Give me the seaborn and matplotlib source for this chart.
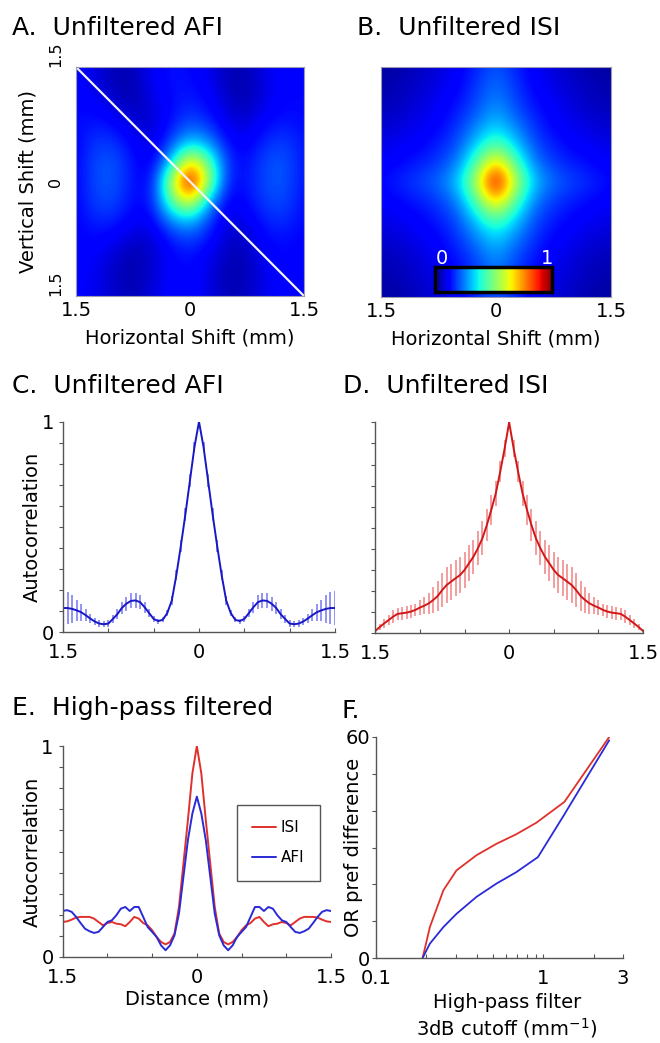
import numpy as np
import pandas as pd
import seaborn as sns
import matplotlib.pyplot as plt
from matplotlib.ticker import FixedLocator, NullFormatter

sns.set_style("ticks")
plt.rcParams['font.family'] = ['DejaVu Sans']
plt.rcParams['text.color'] = 'black'
plt.rcParams['axes.labelcolor'] = 'black'
plt.rcParams['xtick.labelcolor'] = 'black'
plt.rcParams['ytick.labelcolor'] = 'black'

W, H = 660, 1043
RED = '#e0302c'
BLUE = '#2a2ad8'
GREY = '#555555'

# 2D autocorrelation maps, rows y=+1.5 .. -1.5, cols x=-1.5 .. +1.5 (0.25 mm steps)
afi_map = [
    [0.12, 0.09, 0.05, 0.05, 0.11, 0.14, 0.13, 0.10, 0.05, 0.05, 0.10, 0.12, 0.12],
    [0.12, 0.09, 0.05, 0.04, 0.10, 0.14, 0.14, 0.11, 0.05, 0.04, 0.09, 0.12, 0.13],
    [0.13, 0.12, 0.08, 0.05, 0.08, 0.13, 0.16, 0.13, 0.07, 0.05, 0.10, 0.13, 0.13],
    [0.13, 0.15, 0.13, 0.08, 0.07, 0.14, 0.21, 0.17, 0.09, 0.08, 0.13, 0.15, 0.13],
    [0.12, 0.18, 0.18, 0.12, 0.08, 0.20, 0.34, 0.28, 0.13, 0.11, 0.17, 0.19, 0.14],
    [0.12, 0.20, 0.21, 0.14, 0.10, 0.32, 0.72, 0.47, 0.16, 0.13, 0.20, 0.21, 0.14],
    [0.12, 0.20, 0.21, 0.14, 0.12, 0.56, 1.00, 0.55, 0.14, 0.14, 0.20, 0.21, 0.14],
    [0.12, 0.19, 0.20, 0.13, 0.14, 0.46, 0.68, 0.30, 0.11, 0.13, 0.19, 0.20, 0.13],
    [0.12, 0.16, 0.16, 0.11, 0.11, 0.27, 0.33, 0.19, 0.08, 0.10, 0.16, 0.17, 0.13],
    [0.12, 0.13, 0.11, 0.07, 0.07, 0.15, 0.19, 0.14, 0.06, 0.07, 0.13, 0.14, 0.12],
    [0.12, 0.11, 0.07, 0.04, 0.07, 0.12, 0.14, 0.10, 0.05, 0.05, 0.11, 0.13, 0.12],
    [0.12, 0.10, 0.06, 0.04, 0.07, 0.12, 0.13, 0.09, 0.04, 0.05, 0.10, 0.13, 0.12],
    [0.12, 0.10, 0.07, 0.05, 0.08, 0.13, 0.13, 0.09, 0.05, 0.06, 0.10, 0.12, 0.12],
]

isi_map = [
    [0.03, 0.04, 0.06, 0.08, 0.11, 0.16, 0.21, 0.16, 0.11, 0.08, 0.06, 0.04, 0.03],
    [0.04, 0.05, 0.07, 0.09, 0.12, 0.18, 0.24, 0.18, 0.12, 0.09, 0.07, 0.05, 0.04],
    [0.05, 0.06, 0.08, 0.11, 0.14, 0.20, 0.27, 0.20, 0.14, 0.11, 0.08, 0.06, 0.05],
    [0.07, 0.08, 0.10, 0.12, 0.17, 0.25, 0.33, 0.25, 0.17, 0.12, 0.10, 0.08, 0.07],
    [0.09, 0.10, 0.12, 0.15, 0.20, 0.33, 0.45, 0.33, 0.20, 0.15, 0.12, 0.10, 0.09],
    [0.11, 0.13, 0.15, 0.18, 0.25, 0.45, 0.72, 0.45, 0.25, 0.18, 0.15, 0.13, 0.11],
    [0.13, 0.16, 0.19, 0.23, 0.32, 0.58, 1.00, 0.58, 0.32, 0.23, 0.19, 0.16, 0.13],
    [0.11, 0.13, 0.15, 0.18, 0.25, 0.45, 0.72, 0.45, 0.25, 0.18, 0.15, 0.13, 0.11],
    [0.09, 0.10, 0.12, 0.15, 0.20, 0.33, 0.45, 0.33, 0.20, 0.15, 0.12, 0.10, 0.09],
    [0.07, 0.08, 0.10, 0.12, 0.17, 0.25, 0.33, 0.25, 0.17, 0.12, 0.10, 0.08, 0.07],
    [0.05, 0.06, 0.08, 0.11, 0.14, 0.20, 0.27, 0.20, 0.14, 0.11, 0.08, 0.06, 0.05],
    [0.04, 0.05, 0.07, 0.09, 0.12, 0.18, 0.24, 0.18, 0.12, 0.09, 0.07, 0.05, 0.04],
    [0.03, 0.04, 0.06, 0.08, 0.11, 0.16, 0.21, 0.16, 0.11, 0.08, 0.06, 0.04, 0.03],
]

# 1D profiles, distance -1.5 .. 1.5 mm in 0.05 mm steps
dist = np.round(np.arange(-30, 31) * 0.05, 2)

afi_mean = [0.114, 0.114, 0.110, 0.103, 0.094, 0.080, 0.064, 0.050, 0.040, 0.037,
            0.040, 0.062, 0.085, 0.115, 0.135, 0.148, 0.150, 0.142, 0.118, 0.090,
            0.062, 0.052, 0.058, 0.090, 0.150, 0.270, 0.410, 0.560, 0.720, 0.880,
            1.000,
            0.880, 0.720, 0.560, 0.410, 0.270, 0.150, 0.090, 0.058, 0.052, 0.062,
            0.090, 0.118, 0.142, 0.150, 0.148, 0.135, 0.115, 0.085, 0.062, 0.040,
            0.037, 0.040, 0.050, 0.064, 0.080, 0.094, 0.103, 0.110, 0.114, 0.114]
afi_err = [0.080, 0.075, 0.065, 0.050, 0.040, 0.030, 0.020, 0.018, 0.015, 0.015,
           0.015, 0.018, 0.022, 0.028, 0.033, 0.036, 0.036, 0.032, 0.026, 0.020,
           0.015, 0.012, 0.012, 0.015, 0.020, 0.025, 0.028, 0.030, 0.030, 0.025,
           0.020,
           0.025, 0.030, 0.030, 0.028, 0.025, 0.020, 0.015, 0.012, 0.012, 0.015,
           0.020, 0.026, 0.032, 0.036, 0.036, 0.033, 0.028, 0.022, 0.018, 0.015,
           0.015, 0.015, 0.018, 0.020, 0.030, 0.040, 0.050, 0.065, 0.075, 0.080]

isi_mean = [0.011, 0.030, 0.047, 0.063, 0.079, 0.092, 0.095, 0.098, 0.103, 0.111,
            0.122, 0.131, 0.142, 0.158, 0.177, 0.205, 0.229, 0.245, 0.261, 0.276,
            0.300, 0.332, 0.363, 0.403, 0.450, 0.513, 0.585, 0.663, 0.766, 0.877,
            1.000,
            0.877, 0.766, 0.663, 0.585, 0.513, 0.450, 0.403, 0.363, 0.332, 0.300,
            0.276, 0.261, 0.245, 0.229, 0.205, 0.177, 0.158, 0.142, 0.131, 0.122,
            0.111, 0.103, 0.098, 0.095, 0.092, 0.079, 0.063, 0.047, 0.030, 0.011]
isi_err = [0.010, 0.015, 0.020, 0.025, 0.030, 0.030, 0.030, 0.030, 0.030, 0.030,
           0.035, 0.040, 0.050, 0.060, 0.070, 0.080, 0.085, 0.085, 0.085, 0.085,
           0.085, 0.085, 0.080, 0.080, 0.080, 0.075, 0.070, 0.060, 0.050, 0.040,
           0.020,
           0.040, 0.050, 0.060, 0.070, 0.075, 0.080, 0.080, 0.080, 0.085, 0.085,
           0.085, 0.085, 0.085, 0.085, 0.080, 0.070, 0.060, 0.050, 0.040, 0.035,
           0.030, 0.030, 0.030, 0.030, 0.030, 0.030, 0.025, 0.020, 0.015, 0.010]

hp_isi = [0.166, 0.169, 0.177, 0.187, 0.190, 0.190, 0.190, 0.182, 0.166, 0.150,
          0.161, 0.166, 0.158, 0.155, 0.146, 0.166, 0.190, 0.182, 0.161, 0.150,
          0.127, 0.095, 0.071, 0.060, 0.071, 0.111, 0.237, 0.443, 0.649, 0.870,
          1.000,
          0.870, 0.649, 0.443, 0.237, 0.111, 0.071, 0.060, 0.071, 0.095, 0.127,
          0.150, 0.161, 0.182, 0.190, 0.166, 0.146, 0.155, 0.158, 0.166, 0.161,
          0.150, 0.166, 0.182, 0.190, 0.190, 0.190, 0.187, 0.177, 0.169, 0.166]
hp_afi = [0.218, 0.222, 0.214, 0.190, 0.161, 0.134, 0.122, 0.114, 0.119, 0.142,
          0.166, 0.174, 0.198, 0.229, 0.237, 0.218, 0.237, 0.237, 0.190, 0.142,
          0.119, 0.095, 0.055, 0.032, 0.055, 0.103, 0.206, 0.380, 0.554, 0.680,
          0.760,
          0.680, 0.554, 0.380, 0.206, 0.103, 0.055, 0.032, 0.055, 0.095, 0.119,
          0.142, 0.190, 0.237, 0.237, 0.218, 0.237, 0.229, 0.198, 0.174, 0.166,
          0.142, 0.119, 0.114, 0.122, 0.134, 0.161, 0.190, 0.214, 0.222, 0.218]

# panel F: OR preference difference vs high-pass cutoff
cutoff_isi = [0.19, 0.21, 0.253, 0.303, 0.399, 0.525, 0.69, 0.908, 1.34, 2.48]
or_isi = [0, 8.4, 18.4, 23.8, 27.9, 31.0, 33.6, 36.7, 42.4, 60]
cutoff_afi = [0.19, 0.21, 0.253, 0.303, 0.399, 0.525, 0.69, 0.93, 1.31, 2.48]
or_afi = [0, 3.9, 8.4, 12.0, 16.6, 20.2, 23.3, 27.4, 38.3, 59.1]

profiles = pd.DataFrame({'dist': dist, 'afi': afi_mean, 'afi_err': afi_err,
                         'isi': isi_mean, 'isi_err': isi_err,
                         'hp_isi': hp_isi, 'hp_afi': hp_afi})


def px_axes(fig, left, top, right, bottom):
    return fig.add_axes([left / W, 1 - bottom / H, (right - left) / W, (bottom - top) / H])


def style_heat(ax):
    ax.set_xlim(-1.5, 1.5)
    ax.set_ylim(-1.5, 1.5)
    ax.set_xticks([-1.5, 0, 1.5], ['1.5', '0', '1.5'])
    ax.tick_params(length=0, labelsize=14, pad=3.6)
    for s in ax.spines.values():
        s.set_color('#9a9ab0')
        s.set_linewidth(0.8)


def style_profile(ax, ylabels=True):
    ax.set_xlim(-1.5, 1.5)
    ax.set_ylim(0, 1)
    ax.set_xticks([-1.5, -1, -0.5, 0, 0.5, 1, 1.5], ['1.5', '', '', '0', '', '', '1.5'])
    yt = np.round(np.arange(0, 1.01, 0.1), 1)
    ax.set_yticks(yt, (['0'] + [''] * 9 + ['1']) if ylabels else [''] * 11)
    sns.despine(ax=ax)
    ax.tick_params(axis='x', direction='in', length=3, width=0.8, labelsize=14, pad=8, color=GREY)
    ax.tick_params(axis='y', direction='out', length=3, width=0.8, labelsize=14, pad=3.6, color=GREY)
    for s in ['left', 'bottom']:
        ax.spines[s].set_color(GREY)
        ax.spines[s].set_linewidth(1.0)
    ax.set_xlabel('')
    ax.set_ylabel('')


fig = plt.figure(figsize=(6.6, 10.43), dpi=100)
ext = [-1.625, 1.625, -1.625, 1.625]

# A. unfiltered AFI map
axA = px_axes(fig, 76, 67, 304, 296)
axA.imshow(afi_map, cmap='jet', vmin=0, vmax=1, extent=ext, interpolation='bicubic', aspect='auto')
axA.plot([-1.5, 1.5], [1.5, -1.5], color='#f2f2f2', lw=1.6)
style_heat(axA)
axA.set_yticks([-1.5, 0, 1.5], ['1.5', '0', '1.5'], rotation=90, fontsize=11.5)
for tl, va in zip(axA.get_yticklabels(), ['bottom', 'center', 'bottom']):
    tl.set_va(va)
axA.tick_params(axis='y', pad=9.5)
axA.set_xlabel('Horizontal Shift (mm)', fontsize=14)
axA.set_ylabel('Vertical Shift (mm)', fontsize=14)
axA.xaxis.set_label_coords(0.5, -0.144)
axA.yaxis.set_label_coords(-0.171, 0.5)

# B. unfiltered ISI map
axB = px_axes(fig, 381, 67, 611, 297)
imB = axB.imshow(isi_map, cmap='jet', vmin=0, vmax=1, extent=ext, interpolation='bicubic', aspect='auto')
style_heat(axB)
axB.set_yticks([])
axB.set_xlabel('Horizontal Shift (mm)', fontsize=14)
axB.xaxis.set_label_coords(0.5, -0.14)

cax = px_axes(fig, 435, 267, 552, 292)
cb = fig.colorbar(imB, cax=cax, orientation='horizontal')
cb.set_ticks([])
cb.outline.set_linewidth(2.5)
cb.outline.set_edgecolor('black')
cax.text(0.06, 1.12, '0', color='white', fontsize=14, ha='center', va='baseline', transform=cax.transAxes)
cax.text(0.957, 1.12, '1', color='white', fontsize=14, ha='center', va='baseline', transform=cax.transAxes)

# C. AFI profile with error bars
axC = px_axes(fig, 63, 421.7, 335, 632)
axC.vlines(profiles['dist'], profiles['afi'] - profiles['afi_err'], profiles['afi'] + profiles['afi_err'],
           color='#8080f2', lw=1.2)
sns.lineplot(data=profiles, x='dist', y='afi', ax=axC, color='#1818c4', lw=1.4)
style_profile(axC)
axC.set_ylabel('Autocorrelation', fontsize=14)
axC.yaxis.set_label_coords(-0.079, 0.5)

# D. ISI profile with error bars
axD = px_axes(fig, 375.3, 422.3, 643, 633.3)
axD.vlines(profiles['dist'], profiles['isi'] - profiles['isi_err'], profiles['isi'] + profiles['isi_err'],
           color='#f28c8c', lw=1.2)
sns.lineplot(data=profiles, x='dist', y='isi', ax=axD, color='#d01818', lw=1.4)
style_profile(axD, ylabels=False)

# E. high-pass filtered profiles
axE = px_axes(fig, 62.7, 746, 331, 957)
sns.lineplot(data=profiles, x='dist', y='hp_isi', ax=axE, color=RED, lw=1.4, label='ISI')
sns.lineplot(data=profiles, x='dist', y='hp_afi', ax=axE, color=BLUE, lw=1.4, label='AFI')
style_profile(axE)
axE.set_ylabel('Autocorrelation', fontsize=14)
axE.set_xlabel('Distance (mm)', fontsize=14)
axE.yaxis.set_label_coords(-0.079, 0.5)
axE.xaxis.set_label_coords(0.5, -0.152)
leg = axE.legend(loc='upper left', bbox_to_anchor=(0.62, 0.758), fontsize=11, frameon=True,
                 fancybox=False, framealpha=1, edgecolor=GREY, borderpad=1.0,
                 handlelength=1.6, handletextpad=0.3, labelspacing=1.0)
leg.get_frame().set_linewidth(1.0)

# F. OR preference difference vs cutoff
axF = px_axes(fig, 376, 737, 623, 958)
sns.lineplot(x=cutoff_isi, y=or_isi, ax=axF, color=RED, lw=1.3)
sns.lineplot(x=cutoff_afi, y=or_afi, ax=axF, color=BLUE, lw=1.3)
axF.set_xscale('log')
axF.set_xlim(0.1, 3)
axF.set_ylim(0, 60)
axF.set_xticks([0.1, 1, 3], ['0.1', '1', '3'])
axF.xaxis.set_minor_locator(FixedLocator([0.2, 0.3, 0.4, 0.5, 0.6, 0.7, 0.8, 0.9, 2]))
axF.xaxis.set_minor_formatter(NullFormatter())
axF.set_yticks(list(range(0, 61, 10)), ['0', '', '', '', '', '', '60'])
sns.despine(ax=axF)
axF.tick_params(axis='x', which='both', direction='in', length=3, width=0.8, labelsize=14, pad=8, color=GREY)
axF.tick_params(axis='y', direction='out', length=3, width=0.8, labelsize=14, pad=1, color=GREY)
for s in ['left', 'bottom']:
    axF.spines[s].set_color(GREY)
    axF.spines[s].set_linewidth(1.0)
axF.set_ylabel('OR pref difference', fontsize=14)
axF.set_xlabel('High-pass filter\n3dB cutoff (mm$^{-1}$)', fontsize=14)
axF.yaxis.set_label_coords(-0.053, 0.5)
axF.xaxis.set_label_coords(0.53, -0.158)

# panel titles
titles = [('A.  Unfiltered AFI', 12, 35), ('B.  Unfiltered ISI', 357, 35),
          ('C.  Unfiltered AFI', 12, 393), ('D.  Unfiltered ISI', 343, 393),
          ('E.  High-pass filtered', 12, 715), ('F.', 342, 718)]
for txt, x, y in titles:
    fig.text(x / W, 1 - y / H, txt, fontsize=18, ha='left', va='baseline')

fig.savefig('out.png', dpi=100)
